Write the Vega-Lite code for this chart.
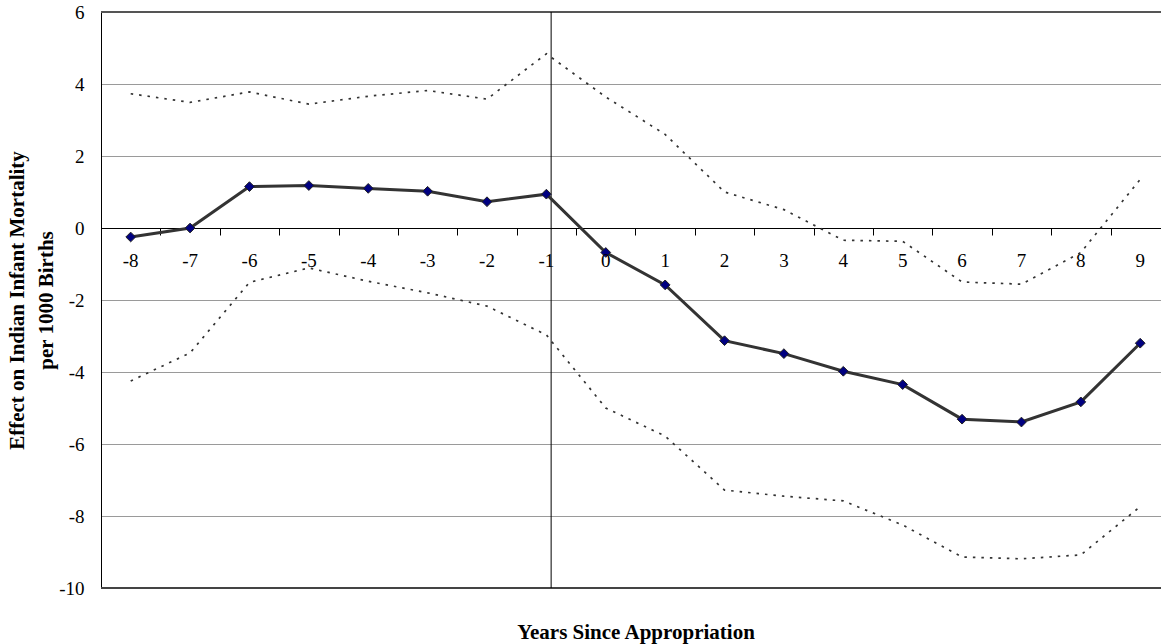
{
  "$schema": "https://vega.github.io/schema/vega-lite/v6.json",
  "autosize": {"type": "none"},
  "width": 1060,
  "height": 576,
  "padding": {"left": 101, "top": 12, "right": 0, "bottom": 56},
  "background": "white",
  "config": {
    "view": {"stroke": null},
    "font": "Liberation Serif"
  },
  "title": {
    "text": "Years Since Appropriation",
    "orient": "bottom",
    "anchor": "middle",
    "font": "Liberation Serif",
    "fontSize": 21,
    "fontWeight": "bold",
    "color": "black",
    "offset": 24,
    "dx": 5
  },
  "data": {
    "values": [
      {"year": -8, "est": -0.25, "lo": -4.25, "hi": 3.73},
      {"year": -7, "est": 0.0, "lo": -3.47, "hi": 3.49},
      {"year": -6, "est": 1.15, "lo": -1.51, "hi": 3.78},
      {"year": -5, "est": 1.18, "lo": -1.11, "hi": 3.44},
      {"year": -4, "est": 1.1, "lo": -1.48, "hi": 3.66},
      {"year": -3, "est": 1.02, "lo": -1.8, "hi": 3.82},
      {"year": -2, "est": 0.73, "lo": -2.17, "hi": 3.58},
      {"year": -1, "est": 0.94, "lo": -2.97, "hi": 4.84},
      {"year": 0, "est": -0.68, "lo": -5.0, "hi": 3.64},
      {"year": 1, "est": -1.58, "lo": -5.78, "hi": 2.6},
      {"year": 2, "est": -3.13, "lo": -7.28, "hi": 1.0},
      {"year": 3, "est": -3.49, "lo": -7.45, "hi": 0.51},
      {"year": 4, "est": -3.98, "lo": -7.58, "hi": -0.34},
      {"year": 5, "est": -4.35, "lo": -8.25, "hi": -0.37},
      {"year": 6, "est": -5.31, "lo": -9.14, "hi": -1.5},
      {"year": 7, "est": -5.39, "lo": -9.19, "hi": -1.56},
      {"year": 8, "est": -4.83, "lo": -9.08, "hi": -0.68},
      {"year": 9, "est": -3.2, "lo": -7.74, "hi": 1.35}
    ]
  },
  "layer": [
    {
      "mark": {"type": "line", "color": "#333333", "strokeWidth": 1.7, "strokeDash": [2.5, 6]},
      "encoding": {
        "x": {
          "field": "year", "type": "quantitative",
          "scale": {"domain": [-8.5, 9.35], "nice": false, "zero": false},
          "axis": {
            "values": [-7.5, -6.5, -5.5, -4.5, -3.5, -2.5, -1.5, -0.5, 0.5, 1.5, 2.5, 3.5, 4.5, 5.5, 6.5, 7.5, 8.5],
            "labels": false, "domain": false, "grid": false,
            "ticks": true, "tickSize": 7, "tickColor": "black", "tickWidth": 1,
            "offset": -360, "title": null
          }
        },
        "y": {
          "field": "hi", "type": "quantitative",
          "scale": {"domain": [-10, 6], "nice": false, "zero": false},
          "axis": {
            "values": [-10, -8, -6, -4, -2, 0, 2, 4, 6],
            "labelExpr": "toString(datum.value)",
            "ticks": false,
            "domain": true, "domainColor": "black", "domainWidth": 1,
            "grid": true,
            "gridColor": {"condition": {"test": "datum.value === 0", "value": "black"}, "value": "#9a9a9a"},
            "gridWidth": 1,
            "labelFont": "Liberation Serif", "labelFontSize": 19, "labelColor": "black",
            "labelPadding": 17,
            "title": ["Effect on Indian  Infant Mortality", "per 1000 Births"],
            "titleFont": "Liberation Serif", "titleFontSize": 21, "titleFontWeight": "bold",
            "titleColor": "black", "titleLineHeight": 29, "titlePadding": 2
          }
        }
      }
    },
    {
      "mark": {"type": "line", "color": "#333333", "strokeWidth": 1.7, "strokeDash": [2.5, 6]},
      "encoding": {
        "x": {"field": "year", "type": "quantitative"},
        "y": {"field": "lo", "type": "quantitative"}
      }
    },
    {
      "mark": {"type": "rule", "color": "#555555", "strokeWidth": 2},
      "encoding": {"y": {"datum": 6}}
    },
    {
      "mark": {"type": "rule", "color": "#444444", "strokeWidth": 2},
      "encoding": {"y": {"datum": -10}}
    },
    {
      "data": {"values": [{"pos": -0.92}]},
      "mark": {"type": "rule", "color": "black", "strokeWidth": 1},
      "encoding": {
        "x": {"field": "pos", "type": "quantitative"},
        "y": {"datum": 6},
        "y2": {"datum": -10}
      }
    },
    {
      "mark": {"type": "line", "color": "#333333", "strokeWidth": 3},
      "encoding": {
        "x": {"field": "year", "type": "quantitative"},
        "y": {"field": "est", "type": "quantitative"}
      }
    },
    {
      "mark": {"type": "point", "shape": "diamond", "filled": true, "fill": "#000080", "stroke": "#222222", "strokeWidth": 1, "size": 95, "opacity": 1},
      "encoding": {
        "x": {"field": "year", "type": "quantitative"},
        "y": {"field": "est", "type": "quantitative"}
      }
    },
    {
      "mark": {"type": "text", "font": "Liberation Serif", "fontSize": 19, "color": "black", "baseline": "middle", "align": "center", "dy": 33},
      "encoding": {
        "x": {"field": "year", "type": "quantitative"},
        "y": {"datum": 0},
        "text": {"field": "year", "type": "nominal"}
      }
    }
  ]
}
